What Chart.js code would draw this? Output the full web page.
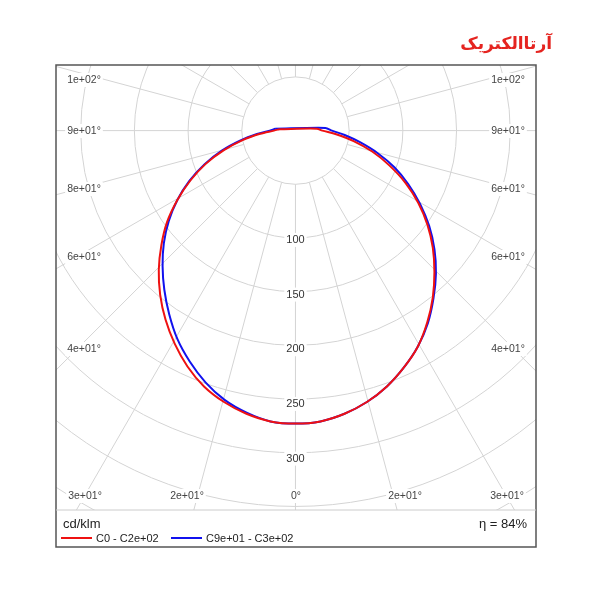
<!DOCTYPE html>
<html><head><meta charset="utf-8">
<script src="https://cdn.jsdelivr.net/npm/chart.js@4"></script>
<style>html,body{margin:0;padding:0;background:#fff}#w{position:relative;width:600px;height:600px;background:#fff}
canvas{position:absolute;left:0;top:0}</style></head>
<body><div id="w"><canvas id="c" width="600" height="600"></canvas></div>
<script>
// gamma angles (deg) and intensities (cd/klm) per half-plane
const gammaAngles = [0,5,10,15,20,25,30,35,40,45,50,55,60,65,70,75,80,85,90,95];
const redC0    = [268,267,263,257,249,239,228,214,199,183,167,150,132,113,93,74,55,38,25,20]; // right
const redC180  = [268,267,263,257,249,238,225,211,196,180,163,146,127,108,89,69,50,33,20,15]; // left
const blueC90  = [268,267,263,257,249,239,228,215,200,185,169,152,134,116,98,79,61,46,34,28]; // right
const blueC270 = [268,267,262,255,245,233,220,205,190,175,160,144,127,109,90,71,52,36,24,19]; // left
const ringValues = [50,100,150,200,250,300,350,400];
const ringLabels = ["100","150","200","250","300"];
const sideLabelsLeft  = ["1e+02°","9e+01°","8e+01°","6e+01°","4e+01°"];
const sideLabelsRight = ["1e+02°","9e+01°","6e+01°","6e+01°","4e+01°"];
const bottomLabels = ["3e+01°","2e+01°","0°","2e+01°","3e+01°"];

function loop(left,right){
  const pts=[];
  for(let i=gammaAngles.length-1;i>=0;i--){const a=gammaAngles[i]*Math.PI/180;pts.push({x:-left[i]*Math.sin(a),y:-left[i]*Math.cos(a)});}
  for(let i=1;i<gammaAngles.length;i++){const a=gammaAngles[i]*Math.PI/180;pts.push({x:right[i]*Math.sin(a),y:-right[i]*Math.cos(a)});}
  pts.push({x:pts[0].x,y:pts[0].y});
  return pts;
}
const FONT='"Liberation Sans", Arial, sans-serif';
const gridPlugin={id:'grid',
 beforeDatasetsDraw(ch){
  const ctx=ch.ctx,xs=ch.scales.x,ys=ch.scales.y,a=ch.chartArea;
  const cx=xs.getPixelForValue(0),cy=ys.getPixelForValue(0),k=xs.getPixelForValue(1)-cx;
  ctx.save();ctx.beginPath();ctx.rect(a.left,a.top,a.right-a.left,a.bottom-a.top);ctx.clip();
  ctx.strokeStyle='#d4d4d4';ctx.lineWidth=1;
  ringValues.forEach(v=>{ctx.beginPath();ctx.arc(cx,cy,v*k,0,Math.PI*2);ctx.stroke();});
  for(let d=0;d<360;d+=15){const r=d*Math.PI/180;const dx=Math.sin(r),dy=Math.cos(r);
   ctx.beginPath();ctx.moveTo(cx+dx*50*k,cy+dy*50*k);ctx.lineTo(cx+dx*800,cy+dy*800);ctx.stroke();}
  ctx.font='11px '+FONT;ctx.textAlign='center';ctx.textBaseline='middle';
  ringLabels.forEach(t=>{const y=ys.getPixelForValue(-Number(t));const w=ctx.measureText(t).width;
   ctx.fillStyle='#fff';ctx.fillRect(cx-w/2-2,y-7,w+4,14);ctx.fillStyle='#333';ctx.fillText(t,cx,y);});
  ctx.restore();
 },
 afterDraw(ch){
  const ctx=ch.ctx;ctx.save();
  ctx.font='10.5px '+FONT;ctx.textBaseline='middle';ctx.fillStyle='#444';
  const ysL=[80,131,189,257,349];
  const lab=(t,x,y)=>{const w=ctx.measureText(t).width;ctx.fillStyle='#fff';ctx.fillRect(x-w/2-2,y-7,w+4,14);ctx.fillStyle='#444';ctx.textAlign='center';ctx.fillText(t,x,y);};
  sideLabelsLeft.forEach((t,i)=>lab(t,84,ysL[i]));
  sideLabelsRight.forEach((t,i)=>lab(t,508,ysL[i]));
  [85,187,296,405,507].forEach((x,i)=>lab(bottomLabels[i],x,496));
  ctx.strokeStyle='#555';ctx.lineWidth=1.5;ctx.strokeRect(56,65,480,482);
  ctx.strokeStyle='#ccc';ctx.lineWidth=1;ctx.beginPath();ctx.moveTo(56,510);ctx.lineTo(536,510);ctx.stroke();
  ctx.fillStyle='#222';ctx.textAlign='left';ctx.font='13px '+FONT;ctx.fillText('cd/klm',63,524);
  ctx.textAlign='right';ctx.fillText('η = 84%',527,524);
  ctx.font='11px '+FONT;ctx.textAlign='left';
  ctx.lineWidth=2;ctx.strokeStyle='#ee1111';ctx.beginPath();ctx.moveTo(61,538);ctx.lineTo(92,538);ctx.stroke();
  ctx.fillText('C0 - C2e+02',96,539);
  ctx.strokeStyle='#1111ee';ctx.beginPath();ctx.moveTo(171,538);ctx.lineTo(202,538);ctx.stroke();
  ctx.fillText('C9e+01 - C3e+02',206,539);
  ctx.fillStyle='#e52420';ctx.font='bold 17px "DejaVu Sans", sans-serif';ctx.textAlign='right';
  ctx.fillText('آرتاالکتریک',552,45);
  ctx.restore();
 }};
new Chart(document.getElementById('c'),{type:'scatter',
 data:{datasets:[
  {label:'C0 - C2e+02',data:loop(redC180,redC0),showLine:true,borderColor:'#ee1111',borderWidth:2,pointRadius:0,tension:0.3,fill:false},
  {label:'C9e+01 - C3e+02',data:loop(blueC270,blueC90),showLine:true,borderColor:'#1111ee',borderWidth:2,pointRadius:0,tension:0.3,fill:false}]},
 options:{responsive:false,animation:false,maintainAspectRatio:false,
  layout:{padding:{left:56,right:64,top:65,bottom:90}},
  plugins:{legend:{display:false},tooltip:{enabled:false}},
  scales:{x:{type:'linear',min:-223,max:224,display:false},y:{type:'linear',min:-347,max:60,display:false}}},
 plugins:[gridPlugin]});
</script></body></html>
